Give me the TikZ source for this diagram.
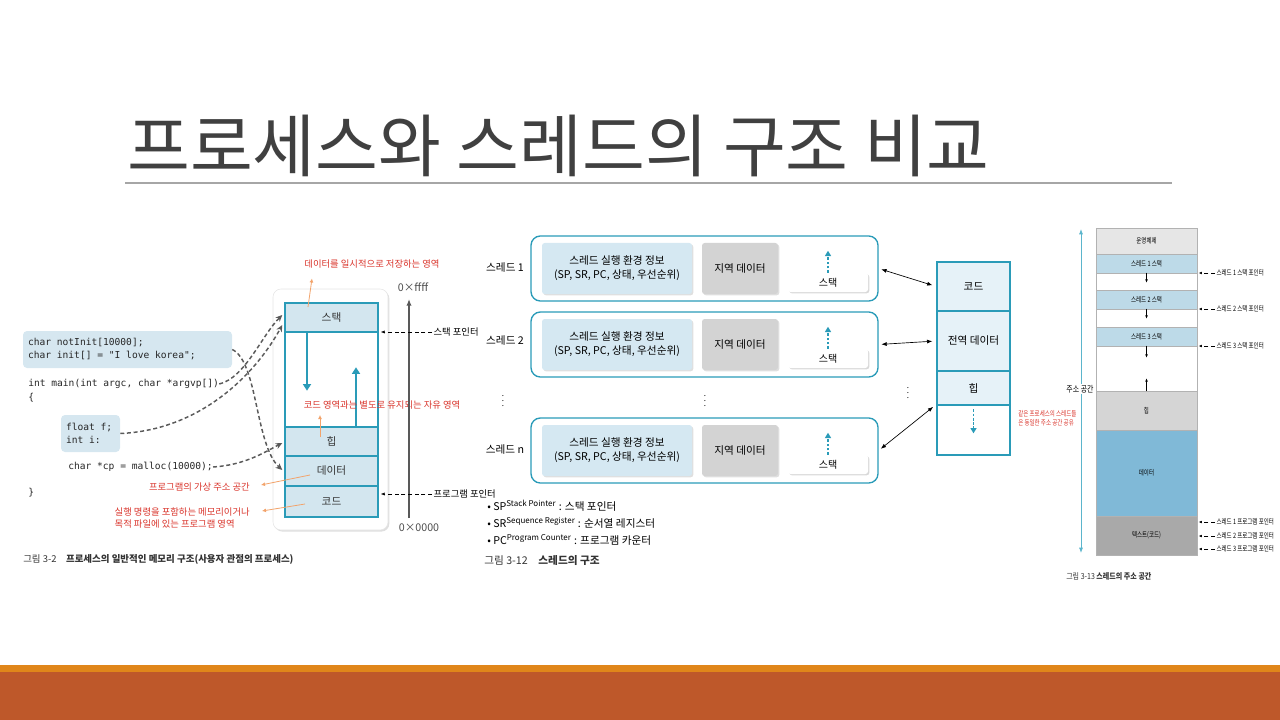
\documentclass[tikz,border=0pt]{standalone}
\usepackage{fontspec}
\setmainfont{Noto Sans CJK KR}
\setmonofont{DejaVu Sans Mono}
\usepackage{xcolor}
\usepackage{graphicx}
\usetikzlibrary{arrows.meta, positioning, shadows, calc}

\definecolor{segline}{HTML}{2A9BB8}
\definecolor{segfill}{HTML}{D3E6EF}
\definecolor{codefill}{HTML}{D6E7F0}
\definecolor{memored}{HTML}{D9342B}
\definecolor{memoorange}{HTML}{F2A36B}
\definecolor{dashgray}{HTML}{5A5A5A}
\definecolor{envfill}{HTML}{D5E8F2}
\definecolor{localfill}{HTML}{D3D3D3}
\definecolor{sharefill}{HTML}{E6F2F8}
\definecolor{osfill}{HTML}{E6E6E6}
\definecolor{tstackfill}{HTML}{BDDAE8}
\definecolor{heapfill}{HTML}{D5D5D5}
\definecolor{datafill}{HTML}{80B9D7}
\definecolor{textfill}{HTML}{A9A9A9}
\definecolor{axisteal}{HTML}{5BB5CC}
\definecolor{bandlight}{HTML}{E0861A}
\definecolor{banddark}{HTML}{BE582A}
\definecolor{titlegray}{HTML}{404040}
\definecolor{rulegray}{HTML}{A6A6A6}

% condensed labels of the address-space figure
\newcommand\narrowtext[1]{\scalebox{0.75}[1]{#1}}

\tikzset{
  memseg/.style={
    draw=segline, line width=1.1pt, fill=segfill, minimum width=69.75pt,
    inner sep=0pt, font=\fontsize{8}{9}\selectfont, text=black!80
  },
  procbox/.style={
    draw=gray!20, fill=white, rounded corners=6pt, minimum width=86.25pt,
    minimum height=180.75pt,
    drop shadow={opacity=0.25, shadow xshift=1pt, shadow yshift=-1.2pt}
  },
  memonote/.style={font=\fontsize{7}{9}\selectfont, text=memored, inner sep=0pt},
  memoarrow/.style={-{Latex[length=3pt,width=3pt]}, draw=memoorange, line width=0.6pt},
  linkarrow/.style={
    -{Stealth[length=5pt,width=4.5pt]}, draw=dashgray, line width=1.1pt,
    dash pattern=on 3pt off 2pt
  },
  growarrow/.style={-{Triangle[length=5pt,width=6pt]}, draw=segline, line width=2pt},
  addraxis/.style={-{Latex[length=5pt,width=4pt]}, draw=gray!70!black, line width=1.2pt},
  addrtext/.style={font=\fontsize{8}{9}\selectfont, text=gray!60!black, inner sep=0pt},
  ptrtext/.style={font=\fontsize{7}{8}\selectfont, anchor=west, inner sep=1pt},
  ptrarrow/.style={-{Latex[length=3pt,width=2.5pt]}, densely dashed, line width=0.5pt, shorten >=1.5pt},
  codetext/.style={font=\ttfamily\fontsize{7.2}{9.75}\selectfont, inner sep=0pt, anchor=west, text=black!85},
  codebox/.style={
    fill=codefill, rounded corners=3pt, inner xsep=3.75pt, inner ysep=0pt,
    minimum height=27.75pt, align=left, text width=149.25pt,
    font=\ttfamily\fontsize{7.2}{9.75}\selectfont, text=black!85,
    execute at begin node={\spaceskip=0pt\xspaceskip=0pt\relax}
  },
  captext/.style={font=\fontsize{7.1}{8}\selectfont, anchor=west, inner sep=0pt, text=black!80},
  % --- thread structure ---
  threadlabel/.style={font=\fontsize{8}{9}\selectfont, inner sep=0pt},
  threadrow/.style={draw=segline, line width=1pt, rounded corners=7pt, minimum width=260.25pt, minimum height=48.75pt},
  envbox/.style={
    fill=envfill, rounded corners=2pt, minimum width=112.5pt, minimum height=38.25pt,
    align=center, font=\fontsize{8}{10.5}\selectfont,
    drop shadow={opacity=0.25, shadow xshift=1pt, shadow yshift=-1pt}
  },
  localbox/.style={
    fill=localfill, rounded corners=2pt, minimum width=57pt, minimum height=38.25pt,
    font=\fontsize{8}{9}\selectfont,
    drop shadow={opacity=0.25, shadow xshift=1pt, shadow yshift=-1pt}
  },
  stackbox/.style={
    fill=white, rounded corners=2pt, minimum width=60pt, minimum height=14.25pt,
    inner sep=0pt, font=\fontsize{7.5}{8}\selectfont,
    drop shadow={opacity=0.3, shadow xshift=1pt, shadow yshift=-1pt}
  },
  stackgrow/.style={-{Triangle[length=4pt,width=4.5pt]}, draw=segline, line width=1.4pt, dash pattern=on 2pt off 1.2pt},
  shareseg/.style={draw=segline, line width=1pt, fill=sharefill, minimum width=54.75pt, inner sep=0pt, font=\fontsize{8}{9}\selectfont},
  shareline/.style={{Latex[length=4pt,width=3pt]}-{Latex[length=4pt,width=3pt]}, line width=0.5pt, shorten <=2pt, shorten >=3pt},
  dotsnode/.style={font=\fontsize{6}{7}\selectfont, inner sep=0pt},
  legendtext/.style={font=\fontsize{8}{9}\selectfont, anchor=west, inner sep=0pt},
  % --- address space ---
  asseg/.style={draw=gray!60, line width=0.4pt, minimum width=75.75pt, inner sep=0pt, font=\fontsize{5.5}{6}\selectfont},
  smallgrow/.style={-{Latex[length=2.5pt,width=2pt]}, line width=0.4pt},
  asptr/.style={-{Latex[length=2.5pt,width=2pt]}, densely dashed, line width=0.4pt, shorten >=1pt},
  astext/.style={font=\fontsize{5.5}{6}\selectfont, anchor=west, inner sep=1pt},
  asaxis/.style={{Latex[length=4pt,width=3pt]}-{Latex[length=4pt,width=3pt]}, draw=axisteal, line width=0.6pt},
}

\begin{document}
\begin{tikzpicture}[x=0.75pt, y=-0.75pt]
  \useasboundingbox (0,0) rectangle (1280,720);

  % === Slide frame ===
  \node[anchor=base west, inner sep=0pt, font=\fontsize{51.2}{56}\selectfont, text=titlegray]
    (title) at (127,172) {프로세스와 스레드의 구조 비교};
  \draw[rulegray, line width=0.8pt] (125,183) -- (1172,183);
  \fill[bandlight] (0,665) rectangle (1280,672);
  \fill[banddark] (0,672) rectangle (1280,720);

  % === Process memory (left) ===
  \node[procbox] (proc) at (330.5,409.5) {};
  \node[memseg, minimum height=21.75pt] (mstack) at (331.5,317.5) {스택};
  \node[memseg, minimum height=71.25pt, fill=white] (mfree) at (331.5,379.5) {};
  \node[memseg, minimum height=21.75pt] (mheap) at (331.5,441.5) {힙};
  \node[memseg, minimum height=22.5pt] (mdata) at (331.5,471) {데이터};
  \node[memseg, minimum height=23.25pt] (mcode) at (331.5,501.5) {코드};
  \draw[growarrow] ($(mstack.south)+(-24.5,0)$) -- ++(0,58);
  \draw[growarrow] ($(mheap.north)+(24.5,0)$) -- ++(0,-59);

  % red notes
  \node[memonote] (mtop) at (372,264) {데이터를 일시적으로 저장하는 영역};
  \node[memonote] (mfreenote) at (382,405) {코드 영역과는 별도로 유지되는 자유 영역};
  \node[memonote, anchor=east] (mvas) at (250,487) {프로그램의 가상 주소 공간};
  \node[memonote, anchor=east, align=left] (mcodenote) at (250,518)
    {실행 명령을 포함하는 메모리이거나\\목적 파일에 있는 프로그램 영역};
  \draw[memoarrow] ($(mstack.center)+(-23.5,-10.5)$) -- ($(mtop.south)+(-60,10)$);
  \draw[memoarrow] ($(mheap.center)+(-11.5,-4.5)$) -- ($(mheap.center)+(-11.5,-26.5)$);
  \draw[memoarrow] ($(mdata.center)+(-21.5,4)$) -- ($(mvas.east)+(11,-2)$);
  \draw[memoarrow] ($(mcode.center)+(-26.5,2.5)$) -- ($(mcodenote.east)+(12,-7)$);

  % address axis
  \coordinate (addrlo) at (409,518);
  \coordinate (addrhi) at (409,299);
  \draw[addraxis] (addrlo) -- (addrhi);
  \node[addrtext] (hiaddr) at (413,287) {0×ffff};
  \node[addrtext] (loaddr) at (419,528) {0×0000};
  \node[ptrtext] (lsp) at (432,332) {스택 포인터};
  \draw[ptrarrow] (lsp.west) -- (lsp.west -| mstack.east);
  \node[ptrtext] (lpc) at (432,494) {프로그램 포인터};
  \draw[ptrarrow] (lpc.west) -- (lpc.west -| mcode.east);

  % source code
  \node[codebox] (cglobal) at (127.5,349.5) {char notInit[10000];\\char init[] = "I love korea";};
  \node[codetext] (cmain) at (28,384) {int main(int argc, char *argvp[])};
  \node[codetext] (copen) at (28,398) {\{};
  \node[codebox, text width=36.75pt] (cfloat) at (90.5,433.5) {float f;\\int i:};
  \node[codetext] (cmalloc) at (68,467) {char *cp = malloc(10000);};
  \node[codetext] (cclose) at (28,493) {\}};

  \draw[linkarrow] (cglobal.east) .. controls (258,362) and (255,445) .. ($(mdata.west)+(-2,-1)$);
  \draw[linkarrow] (cmain.east) .. controls (245,378) and (262,335) .. ($(mstack.west)+(-2,-2.5)$);
  \draw[linkarrow] (cfloat.east) .. controls (200,430) and (255,375) .. ($(mstack.west)+(-2,7.5)$);
  \draw[linkarrow] (cmalloc.east) .. controls (245,465) and (265,452) .. ($(mheap.west)+(-2,1.5)$);

  \node[captext] (capleft) at (23,559) {그림 3-2\quad\textbf{프로세스의 일반적인 메모리 구조(사용자 관점의 프로세스)}};

  % === Thread structure (middle) ===
  \node[threadlabel] (lt1) at (505,268) {스레드 1};
  \node[threadrow] (rowt1) at (704.5,268.5) {};
  \node[envbox] (envt1) at (617,268.5) {스레드 실행 환경 정보\\(SP, SR, PC, 상태, 우선순위)};
  \node[localbox] (loct1) at (740,268.5) {지역 데이터};
  \node[stackbox] (stkt1) at (828,282.5) {스택};
  \draw[stackgrow] (stkt1.north) -- ++(0,-22);

  \node[threadlabel] (lt2) at (505,341) {스레드 2};
  \node[threadrow] (rowt2) at (704.5,344.5) {};
  \node[envbox] (envt2) at (617,344.5) {스레드 실행 환경 정보\\(SP, SR, PC, 상태, 우선순위)};
  \node[localbox] (loct2) at (740,344.5) {지역 데이터};
  \node[stackbox] (stkt2) at (828,358.5) {스택};
  \draw[stackgrow] (stkt2.north) -- ++(0,-22);

  \node[threadlabel] (ltn) at (505,450) {스레드 n};
  \node[threadrow] (rowtn) at (704.5,450.5) {};
  \node[envbox] (envtn) at (617,450.5) {스레드 실행 환경 정보\\(SP, SR, PC, 상태, 우선순위)};
  \node[localbox] (loctn) at (740,450.5) {지역 데이터};
  \node[stackbox] (stktn) at (828,464.5) {스택};
  \draw[stackgrow] (stktn.north) -- ++(0,-22);

  \node[dotsnode] (dotl) at (503,397) {$\vdots$};
  \node[dotsnode] (dotm) at (705,397) {$\vdots$};
  \node[dotsnode] (dotr) at (908,389) {$\vdots$};

  % shared segments
  \node[shareseg, minimum height=36.75pt] (scode) at (973.5,286.5) {코드};
  \node[shareseg, minimum height=45pt] (sglob) at (973.5,341) {전역 데이터};
  \node[shareseg, minimum height=25.5pt] (sheap) at (973.5,388.5) {힙};
  \node[shareseg, minimum height=37.5pt, fill=white] (sfree) at (973.5,430) {};
  \draw[stackgrow] ($(sfree.north)+(0,5)$) -- ++(0,24);

  \draw[shareline] (rowt1.east) -- (scode.west);
  \draw[shareline] (rowt2.east) -- (sglob.west);
  \draw[shareline] (rowtn.east) -- (sfree.north west);

  \node[legendtext] (lgsp) at (487,506) {• SP\textsuperscript{Stack Pointer} : 스택 포인터};
  \node[legendtext] (lgsr) at (487,523) {• SR\textsuperscript{Sequence Register} : 순서열 레지스터};
  \node[legendtext] (lgpc) at (487,540) {• PC\textsuperscript{Program Counter} : 프로그램 카운터};
  \node[captext, font=\fontsize{8}{9}\selectfont] (capmid) at (484,561) {그림 3-12\quad\textbf{스레드의 구조}};

  \node[memonote, anchor=west, font=\fontsize{5.5}{7}\selectfont] (noteshare) at (1018,419)
    {\narrowtext{\begin{tabular}{@{}l@{}}같은 프로세스의 스레드들\\은 동일한 주소 공간 공유\end{tabular}}};

  % === Thread address space (right) ===
  \node[asseg, fill=osfill, minimum height=19.5pt] (aos) at (1146.5,241) {\narrowtext{운영체제}};
  \node[asseg, fill=tstackfill, minimum height=14.25pt] (ast1) at (1146.5,263.5) {\narrowtext{스레드 1 스택}};
  \node[asseg, fill=white, minimum height=12.75pt] (agap1) at (1146.5,281.5) {};
  \node[asseg, fill=tstackfill, minimum height=14.25pt] (ast2) at (1146.5,299.5) {\narrowtext{스레드 2 스택}};
  \node[asseg, fill=white, minimum height=13.5pt] (agap2) at (1146.5,318) {};
  \node[asseg, fill=tstackfill, minimum height=14.25pt] (ast3) at (1146.5,336.5) {\narrowtext{스레드 3 스택}};
  \node[asseg, fill=white, minimum height=33.75pt] (agap3) at (1146.5,368.5) {};
  \node[asseg, fill=heapfill, minimum height=29.25pt] (aheap) at (1146.5,410.5) {\narrowtext{힙}};
  \node[asseg, fill=datafill, minimum height=64.5pt] (adata) at (1146.5,473) {\narrowtext{데이터}};
  \node[asseg, fill=textfill, minimum height=29.25pt] (atext) at (1146.5,535.5) {\narrowtext{텍스트(코드)}};

  \draw[smallgrow] (agap1.north) -- ++(0,10);
  \draw[smallgrow] (agap2.north) -- ++(0,10);
  \draw[smallgrow] (agap3.north) -- ++(0,12);
  \draw[smallgrow] (agap3.south) -- ++(0,-13);

  \coordinate (astop) at (1081,229);
  \coordinate (asbot) at (1081,553);
  \draw[asaxis] (asbot) -- (astop);
  \node[fill=white, inner sep=1pt, font=\fontsize{6.5}{7}\selectfont] (aslabel) at (1080,389) {\scalebox{0.8}[1]{주소 공간}};

  \node[astext] (pst1) at (1215,273) {\narrowtext{스레드 1 스택 포인터}};
  \draw[asptr] (pst1.west) -- (pst1.west -| ast1.east);
  \node[astext] (pst2) at (1215,309) {\narrowtext{스레드 2 스택 포인터}};
  \draw[asptr] (pst2.west) -- (pst2.west -| ast2.east);
  \node[astext] (pst3) at (1215,346) {\narrowtext{스레드 3 스택 포인터}};
  \draw[asptr] (pst3.west) -- (pst3.west -| ast3.east);
  \node[astext] (ppc1) at (1215,522) {\narrowtext{스레드 1 프로그램 포인터}};
  \draw[asptr] (ppc1.west) -- (ppc1.west -| atext.east);
  \node[astext] (ppc2) at (1215,536) {\narrowtext{스레드 2 프로그램 포인터}};
  \draw[asptr] (ppc2.west) -- (ppc2.west -| atext.east);
  \node[astext] (ppc3) at (1215,549) {\narrowtext{스레드 3 프로그램 포인터}};
  \draw[asptr] (ppc3.west) -- (ppc3.west -| atext.east);

  \node[captext, font=\fontsize{6.2}{7}\selectfont] (capright) at (1066,576)
    {\scalebox{0.85}[1]{그림 3-13\ \textbf{스레드의 주소 공간}}};

\end{tikzpicture}
\end{document}
